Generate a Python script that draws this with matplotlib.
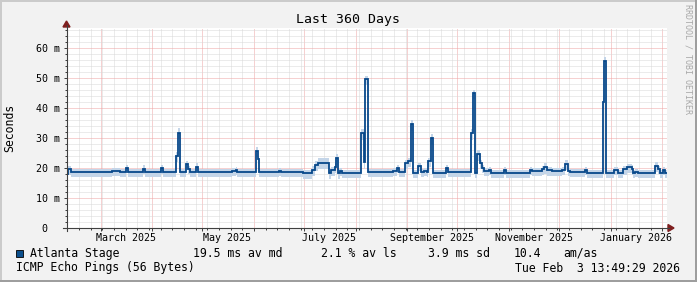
import datetime as dt
import matplotlib
matplotlib.use("Agg")
import matplotlib.pyplot as plt
import matplotlib.dates as mdates
from matplotlib.patches import Rectangle, Polygon
from matplotlib.lines import Line2D
import numpy as np

# ---------------- data ----------------
title = "Last 360 Days"
y_label = "Seconds"
end_time = dt.datetime(2026, 2, 3, 13, 49, 29)
span_days = 360

# step segments: start (days since start of window), median value (ms)
seg_start = [
    0, 0.6, 2.7, 27, 31.8, 35.4, 36.9, 45.6, 46.8, 56.4,
    57.9, 65.4, 66.8, 67.8, 71.4, 72.8, 73.8, 77.4, 78.8, 99,
    101.4, 102.4, 113.4, 114.8, 115.4, 127.2, 128.4, 141.6, 147, 148.8,
    150.6, 157.2, 158.4, 160.8, 161.4, 162.6, 163.8, 165, 176.4, 178.2,
    179, 180.8, 195.6, 198, 199.2, 202.8, 204.6, 206.4, 207.8, 210.6,
    212.4, 214.2, 216, 216.6, 218.4, 219.6, 227.4, 228.6, 242.8, 243.8,
    244.8, 246.4, 247.8, 249, 250.4, 253.2, 254.4, 262.2, 263.4, 277.8,
    279, 285, 286.2, 288, 291, 297, 298.8, 300.6, 301.8, 310.8,
    312, 321.8, 322.5, 323.8, 328.2, 330.6, 333.6, 336, 339, 339.6,
    340.8, 342.6, 353.2, 354.8, 355.8, 357.8, 358.8,
]
seg_value = [
    18.0, 19.6, 18.6, 18.9, 18.6, 19.9, 18.6, 19.8, 18.6, 19.9,
    18.6, 24.0, 31.8, 18.6, 21.3, 19.7, 18.6, 20.4, 18.6, 18.9,
    19.3, 18.6, 25.7, 22.9, 18.6, 19.0, 18.6, 18.2, 19.5, 21.0,
    21.8, 18.2, 19.3, 20.5, 23.2, 18.5, 19.0, 18.3, 31.6, 22.0,
    49.6, 18.6, 19.0, 20.0, 18.6, 21.6, 22.3, 34.6, 18.3, 20.7,
    18.6, 19.0, 18.6, 22.3, 29.9, 18.3, 19.9, 18.6, 31.6, 44.9,
    18.5, 24.7, 21.6, 19.9, 19.1, 19.5, 18.4, 19.5, 18.4, 19.5,
    19.0, 19.6, 20.2, 19.3, 19.0, 19.5, 21.4, 19.0, 18.6, 19.3,
    18.5, 42.0, 55.6, 18.4, 19.3, 18.4, 19.6, 20.2, 19.8, 18.4,
    18.7, 18.4, 20.7, 19.6, 18.4, 19.3, 18.4,
]
# smoke band: extent below / above the median (ms)
seg_smoke_lo = [
    1.7, 1.8, 1.7, 1.7, 1.7, 1.7, 1.7, 1.8, 1.7, 1.8,
    1.7, 2.0, 2.2, 1.7, 2.0, 1.7, 1.7, 2.0, 1.7, 1.7,
    1.7, 1.7, 2.0, 1.7, 1.7, 1.7, 1.7, 1.7, 2.0, 2.0,
    2.2, 2.0, 2.0, 2.0, 2.2, 2.0, 1.7, 1.7, 2.4, 2.2,
    2.0, 1.7, 1.7, 1.7, 1.7, 2.0, 2.0, 2.2, 1.7, 1.7,
    1.7, 1.7, 1.7, 2.0, 2.2, 1.7, 1.7, 1.7, 2.2, 2.0,
    1.7, 2.2, 2.0, 1.7, 1.7, 1.7, 1.7, 1.7, 1.7, 1.7,
    1.7, 2.0, 2.2, 2.0, 1.7, 1.7, 2.2, 1.7, 1.7, 1.7,
    1.7, 2.0, 2.3, 1.7, 1.7, 1.7, 2.0, 2.0, 2.0, 1.7,
    1.7, 1.7, 2.0, 1.7, 1.7, 1.7, 1.7,
]
seg_smoke_hi = [
    1.0, 1.1, 1.0, 1.0, 1.0, 1.0, 1.0, 1.1, 1.0, 1.1,
    1.0, 1.2, 1.4, 1.0, 1.2, 1.0, 1.0, 1.2, 1.0, 1.0,
    1.0, 1.0, 1.2, 1.0, 1.0, 1.0, 1.0, 1.0, 1.2, 1.2,
    1.4, 1.2, 1.2, 1.2, 1.4, 1.2, 1.0, 1.0, 1.5, 1.4,
    1.2, 1.0, 1.0, 1.0, 1.0, 1.2, 1.2, 1.4, 1.0, 1.0,
    1.0, 1.0, 1.0, 1.2, 1.4, 1.0, 1.0, 1.0, 1.4, 1.2,
    1.0, 1.4, 1.2, 1.0, 1.0, 1.0, 1.0, 1.0, 1.0, 1.0,
    1.0, 1.2, 1.4, 1.2, 1.0, 1.0, 1.4, 1.0, 1.0, 1.0,
    1.0, 1.2, 1.5, 1.0, 1.0, 1.0, 1.2, 1.2, 1.2, 1.0,
    1.0, 1.0, 1.2, 1.0, 1.0, 1.0, 1.0,
]

y_major = [0, 10, 20, 30, 40, 50, 60]
y_tick_labels = ["0\u00a0\u00a0", "10 m", "20 m", "30 m", "40 m", "50 m", "60 m"]
y_top = 66.7

month_labels = ["March 2025", "May 2025", "July 2025", "September 2025",
                "November 2025", "January 2026"]
month_label_dates = [dt.datetime(2025, 3, 1), dt.datetime(2025, 5, 1), dt.datetime(2025, 7, 1),
                     dt.datetime(2025, 9, 1), dt.datetime(2025, 11, 1), dt.datetime(2026, 1, 1)]

series_name = "Atlanta Stage"
legend_stats = ["19.5 ms av md", "2.1 % av ls", "3.9 ms sd", "10.4", "am/as"]
footer_left = "ICMP Echo Pings (56 Bytes)"
footer_right = "Tue Feb  3 13:49:29 2026"
watermark = "RRDTOOL / TOBI OETIKER"

# ---------------- style ----------------
W, H = 697, 282
BG = "#f2f2f2"
LINE = "#07488a"
SMOKE = "#c4d5e8"
MAJ_GRID = "#eea4a4"
MIN_GRID = "#d8d8d8"
ARROW = "#7f1f1f"
AXIS = "#404040"
MONO = "DejaVu Sans Mono"
plt.rcParams["font.family"] = [MONO, "DejaVu Sans"]
plt.rcParams["lines.scale_dashes"] = False

fig = plt.figure(figsize=(W / 100, H / 100), dpi=100, facecolor=BG)

def fx(px):
    return px / W

def fy(py):
    return 1 - py / H

left_px, right_px, top_px, bot_px = 66.5, 666.5, 28, 228
ax = fig.add_axes([fx(left_px), fy(bot_px), fx(right_px - left_px), (bot_px - top_px) / H])
ax.set_facecolor("white")

t0 = end_time - dt.timedelta(days=span_days)
x0 = mdates.date2num(t0)
x1 = mdates.date2num(end_time)

edges = np.array(seg_start + [span_days], dtype=float) + x0
vals = np.array(seg_value)

ax.stairs(vals + np.array(seg_smoke_hi), edges, baseline=vals - np.array(seg_smoke_lo),
          fill=True, color=SMOKE, lw=0, zorder=2)
ax.stairs(vals, edges, baseline=None, color=LINE, lw=1.3, zorder=3)

ax.set_xlim(x0, x1)
ax.set_ylim(0, y_top)

# grid / ticks
month_starts = []
d = dt.datetime(t0.year, t0.month, 1)
while d <= end_time:
    if d > t0:
        month_starts.append(mdates.date2num(d))
    d = dt.datetime(d.year + (d.month // 12), d.month % 12 + 1, 1)
sundays = []
d = dt.datetime(t0.year, t0.month, t0.day) + dt.timedelta(days=1)
while d.weekday() != 6:
    d += dt.timedelta(days=1)
while d <= end_time:
    sundays.append(mdates.date2num(d))
    d += dt.timedelta(days=7)

ax.set_xticks(month_starts)
ax.set_xticks(sundays, minor=True)
ax.set_xticklabels([])
ax.set_yticks(y_major)
ax.set_yticks(np.arange(2, y_top, 2), minor=True)
ax.set_yticklabels(y_tick_labels, fontsize=7.2, family=MONO)

dots = (0, (0.72, 0.72))
ax.grid(which="major", axis="both", color=MAJ_GRID, lw=0.72, linestyle=dots, zorder=1, snap=True)
ax.grid(which="minor", axis="both", color=MIN_GRID, lw=0.72, linestyle=dots, zorder=1, snap=True)
ax.set_axisbelow(True)
ax.tick_params(which="major", length=2.2, width=0.72, color=AXIS, pad=2.4, direction="out")
ax.tick_params(which="minor", length=1.1, width=0.72, color=AXIS, direction="out")
for s in ax.spines.values():
    s.set_visible(False)

for lab, dte in zip(month_labels, month_label_dates):
    xm = mdates.date2num(dte + dt.timedelta(days=15))
    ax.text(xm, -(238 - bot_px) / 3.0, lab, ha="center", va="center",
            fontsize=7.2, family=MONO, clip_on=False)

# axis lines with arrows
fig.add_artist(Line2D([fx(63), fx(669)], [fy(bot_px), fy(bot_px)], color=AXIS, lw=0.8))
fig.add_artist(Line2D([fx(left_px), fx(left_px)], [fy(231), fy(25)], color=AXIS, lw=0.8))
fig.add_artist(Polygon([[fx(668), fy(bot_px - 3.5)], [fx(668), fy(bot_px + 3.5)], [fx(674), fy(bot_px)]],
                       closed=True, color=ARROW, transform=fig.transFigure))
fig.add_artist(Polygon([[fx(left_px - 3.5), fy(27)], [fx(left_px + 3.5), fy(27)], [fx(left_px), fy(21)]],
                       closed=True, color=ARROW, transform=fig.transFigure))

# texts
fig.text(fx(348.5), fy(19), title, ha="center", va="center", fontsize=9.5, family=MONO)
fig.text(fx(10), fy(128), y_label, ha="center", va="center", rotation=90, fontsize=8.3, family=MONO)
fig.text(fx(688), fy(4), watermark, ha="center", va="top", rotation=270, fontsize=6.0,
         family=MONO, color="#a8a8a8")

fig.add_artist(Rectangle((fx(15.5), fy(256.5)), fx(7), 7 / H, transform=fig.transFigure,
                         facecolor="#0b4f8c", edgecolor="#000000", lw=0.6))
fig.text(fx(30), fy(253.5), series_name, ha="left", va="center", fontsize=8.3, family=MONO)
for txt, xp in zip(legend_stats, [193, 321, 428, 514, 563]):
    fig.text(fx(xp), fy(253.5), txt, ha="left", va="center", fontsize=8.3, family=MONO)
fig.text(fx(16), fy(268), footer_left, ha="left", va="center", fontsize=8.3, family=MONO)
fig.text(fx(680), fy(268), footer_right, ha="right", va="center", fontsize=8.3, family=MONO)

# 3D frame
fig.add_artist(Rectangle((0, fy(2)), 1, 2 / H, transform=fig.transFigure, color="#cbcbcb", lw=0))
fig.add_artist(Rectangle((0, 0), fx(2), 1, transform=fig.transFigure, color="#cbcbcb", lw=0))
fig.add_artist(Rectangle((0, 0), 1, 2 / H, transform=fig.transFigure, color="#9e9e9e", lw=0))
fig.add_artist(Rectangle((fx(W - 2), 0), fx(2), 1, transform=fig.transFigure, color="#9e9e9e", lw=0))

fig.savefig("out.png", dpi=100, facecolor=BG)
